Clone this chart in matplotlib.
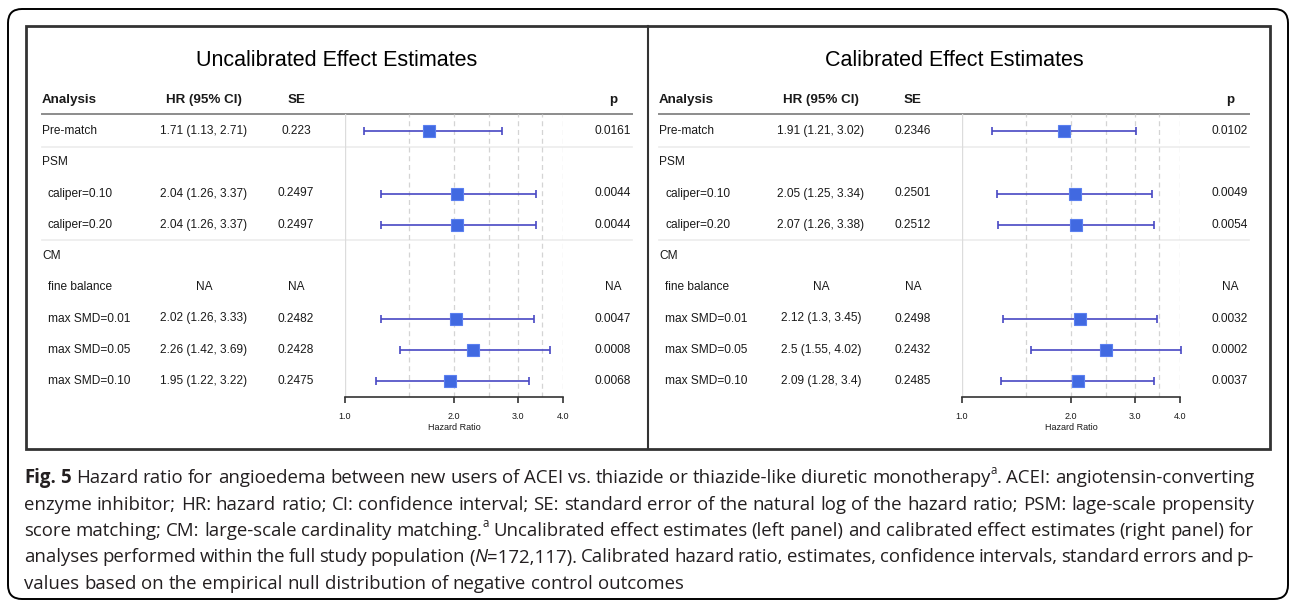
import numpy as np
import matplotlib
matplotlib.use("Agg")
import matplotlib.pyplot as plt
from matplotlib.patches import FancyBboxPatch, Rectangle
from matplotlib.ticker import NullLocator

# ---- data -------------------------------------------------------------
labels = ["Pre-match", "PSM", "caliper=0.10", "caliper=0.20", "CM",
          "fine balance", "max SMD=0.01", "max SMD=0.05", "max SMD=0.10"]
indent = [0, 0, 1, 1, 0, 1, 1, 1, 1]
is_na = [0, 0, 0, 0, 0, 1, 0, 0, 0]
nan = np.nan

uncal_hr = [1.71, nan, 2.04, 2.04, nan, nan, 2.02, 2.26, 1.95]
uncal_lo = [1.13, nan, 1.26, 1.26, nan, nan, 1.26, 1.42, 1.22]
uncal_hi = [2.71, nan, 3.37, 3.37, nan, nan, 3.33, 3.69, 3.22]
uncal_se = [0.223, nan, 0.2497, 0.2497, nan, nan, 0.2482, 0.2428, 0.2475]
uncal_p = [0.0161, nan, 0.0044, 0.0044, nan, nan, 0.0047, 0.0008, 0.0068]

cal_hr = [1.91, nan, 2.05, 2.07, nan, nan, 2.12, 2.5, 2.09]
cal_lo = [1.21, nan, 1.25, 1.26, nan, nan, 1.3, 1.55, 1.28]
cal_hi = [3.02, nan, 3.34, 3.38, nan, nan, 3.45, 4.02, 3.4]
cal_se = [0.2346, nan, 0.2501, 0.2512, nan, nan, 0.2498, 0.2432, 0.2485]
cal_p = [0.0102, nan, 0.0049, 0.0054, nan, nan, 0.0032, 0.0002, 0.0037]

titles = ["Uncalibrated Effect Estimates", "Calibrated Effect Estimates"]
headers = ["Analysis", "HR (95% CI)", "SE", "p"]
xticks = [1, 2, 3, 4]
xticklabels = ["1.0", "2.0", "3.0", "4.0"]
grid_dashed = [1.5, 2, 2.5, 3, 3.5, 4]

caption = [
    [("Fig. 5", "b"), (" Hazard ratio for angioedema between new users of ACEI vs. thiazide or "
                       "thiazide-like diuretic monotherapy", "n"), ("a", "sup"),
     (". ACEI: angiotensin-converting", "n")],
    [("enzyme inhibitor; HR: hazard ratio; CI: confidence interval; SE: standard error of the "
      "natural log of the hazard ratio; PSM: lage-scale propensity", "n")],
    [("score matching; CM: large-scale cardinality matching.", "n"), ("a", "sup"),
     (" Uncalibrated effect estimates (left panel) and calibrated effect estimates "
      "(right panel) for", "n")],
    [("analyses performed within the full study population (", "n"), ("N", "it"),
     ("=172,117). Calibrated hazard ratio, estimates, confidence intervals, standard "
      "errors and p-", "n")],
    [("values based on the empirical null distribution of negative control outcomes", "n")],
]

# ---- layout -----------------------------------------------------------
W, H = 1290, 601
fig = plt.figure(figsize=(W / 100, H / 100), dpi=100)
bg = fig.add_axes([0, 0, 1, 1])
bg.set_xlim(0, W)
bg.set_ylim(H, 0)
bg.axis("off")

TXT = "#1a1a1a"
SANS = ["Liberation Sans", "DejaVu Sans"]
ROW0, STEP = 131, 31.25
AX_L, AX_W = 345, 218
TOP, BOT = 114, 397
OFFSET = 617


def fmt(v):
    return f"{v:g}"


# outer rounded border and image frame
bg.add_patch(FancyBboxPatch((8, 9), 1280, 590, boxstyle="round,pad=0,rounding_size=14",
                            fc="none", ec="black", lw=1.4))
bg.add_patch(Rectangle((26, 26), 1244, 423, fc="none", ec="#333333", lw=2))
bg.plot([648, 648], [26, 449], color="#333333", lw=1.5)


def panel(k, hr, lo, hi, se, p):
    dx = k * OFFSET
    bg.text(337 + dx, 60, titles[k], ha="center", va="center", fontsize=15.5,
            family=SANS, color="black")
    hx = [42, 204, 296, 613]
    for j, h in enumerate(headers):
        bg.text(hx[j] + dx, 100, h, ha="left" if j == 0 else "center", va="center",
                fontsize=9.6, fontweight="bold", family=SANS, color=TXT)
    bg.plot([42 + dx, 632 + dx], [TOP, TOP], color="#8c8c8c", lw=1.4)
    for sep in [0.5, 3.5]:
        bg.plot([42 + dx, 632 + dx], [ROW0 + sep * STEP] * 2, color="#ececec", lw=1.2)

    for i, lab in enumerate(labels):
        y = ROW0 + i * STEP
        bg.text(42 + 6 * indent[i] + dx, y, lab, ha="left", va="center",
                fontsize=8.6, family=SANS, color=TXT)
        if is_na[i]:
            cells = ["NA", "NA", "NA"]
        elif np.isnan(hr[i]):
            continue
        else:
            cells = [f"{fmt(hr[i])} ({fmt(lo[i])}, {fmt(hi[i])})", fmt(se[i]), fmt(p[i])]
        for cx, c in zip(hx[1:], cells):
            bg.text(cx + dx, y, c, ha="center", va="center", fontsize=8.6,
                    family=SANS, color=TXT)

    ax = fig.add_axes([(AX_L + dx) / W, (H - BOT) / H, AX_W / W, (BOT - TOP) / H])
    ax.patch.set_alpha(0)
    ax.set_xscale("log")
    ax.set_xlim(1, 4)
    ax.set_ylim((BOT - ROW0) / STEP, (TOP - ROW0) / STEP)
    for g in grid_dashed:
        ax.axvline(g, color="#d4d4d4", lw=0.9, ls=(0, (4, 3)))
    ax.axvline(1, color="#dcdcdc", lw=1.0)
    hr_a, lo_a, hi_a = np.array(hr), np.array(lo), np.array(hi)
    rows = np.arange(len(labels))
    ax.errorbar(hr_a, rows, xerr=[hr_a - lo_a, hi_a - hr_a], fmt="none",
                ecolor="#4848c4", elinewidth=1.2, capsize=2.6, capthick=1.2, clip_on=False)
    ax.plot(hr_a, rows, ls="none", marker="s", ms=8.8, mfc="#4169e1", mec="#5a7ff0",
            mew=0.8, clip_on=False)
    for s in ["top", "left", "right"]:
        ax.spines[s].set_visible(False)
    ax.spines["bottom"].set_color("#333333")
    ax.spines["bottom"].set_linewidth(1.2)
    ax.set_yticks([])
    ax.set_xticks(xticks)
    ax.set_xticklabels(xticklabels)
    ax.xaxis.set_minor_locator(NullLocator())
    ax.tick_params(axis="x", length=4, width=1.2, color="#333333", labelsize=6.5,
                   pad=7, labelcolor=TXT)
    ax.set_xlabel("Hazard Ratio", fontsize=6.5, labelpad=1, color=TXT, family=SANS)
    for t in ax.get_xticklabels():
        t.set_family(SANS)


panel(0, uncal_hr, uncal_lo, uncal_hi, uncal_se, uncal_p)
panel(1, cal_hr, cal_lo, cal_hi, cal_se, cal_p)

# ---- justified caption ------------------------------------------------
CAP_FONT = ["Open Sans", "DejaVu Sans"]
CAP_COL = "#231f20"
r = fig.canvas.get_renderer()


def width(t):
    return t.get_window_extent(renderer=r).width


probe = bg.text(0, 0, caption[4][0][0], fontsize=12, family=CAP_FONT)
CAP_FS = 12 * 656 / width(probe)
probe.remove()
p1 = bg.text(0, 0, "a a", fontsize=CAP_FS, family=CAP_FONT)
p2 = bg.text(0, 0, "aa", fontsize=CAP_FS, family=CAP_FONT)
SPACE = width(p1) - width(p2)
p1.remove()
p2.remove()

X0, X1 = 24, 1254


def cap_text(s, kind, y):
    kw = dict(family=CAP_FONT, color=CAP_COL, va="center", ha="left", fontsize=CAP_FS)
    if kind == "b":
        kw["fontweight"] = "bold"
    if kind == "it":
        kw["fontstyle"] = "italic"
    if kind == "sup":
        kw["fontsize"] = CAP_FS * 0.62
        y -= CAP_FS * 100 / 72 * 0.38
    return bg.text(0, y, s, **kw)


for li, segs in enumerate(caption):
    y = 478 + li * 26.5
    words = [[]]
    for s, kind in segs:
        parts = s.split(" ")
        for j, part in enumerate(parts):
            if j > 0:
                words.append([])
            if part:
                words[-1].append((part, kind))
    words = [w for w in words if w]
    placed = []
    total = 0
    for w in words:
        items = []
        for part, kind in w:
            t = cap_text(part, kind, y)
            items.append((t, width(t)))
        placed.append(items)
        total += sum(wd for _, wd in items)
    gaps = len(placed) - 1
    sp = SPACE
    if li < len(caption) - 1 and gaps > 0:
        sp = (X1 - X0 - total) / gaps
    x = X0
    for items in placed:
        for t, wd in items:
            t.set_x(x)
            x += wd
        x += sp

fig.savefig("out.png", dpi=100)
